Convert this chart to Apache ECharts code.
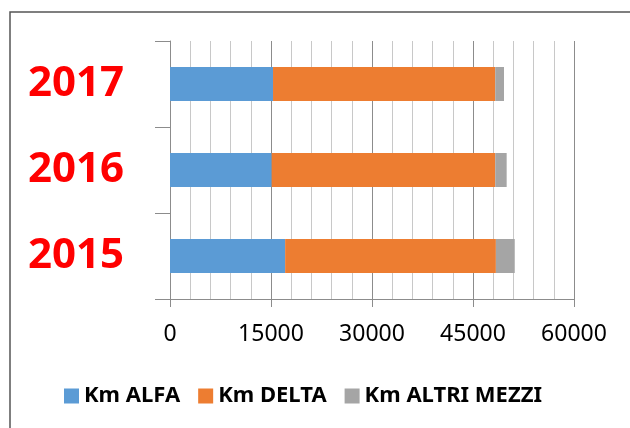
<!DOCTYPE html>
<html>
<head>
<meta charset="utf-8">
<script src="https://cdn.jsdelivr.net/npm/echarts@6/dist/echarts.min.js"></script>
<style>
  html, body { margin: 0; padding: 0; background: #fff; }
  #chart { width: 630px; height: 428px; }
</style>
</head>
<body>
<div id="chart"></div>
<script>
// dati
var years = ['2015', '2016', '2017'];
var kmAlfa = [17100, 15100, 15300];
var kmDelta = [31300, 33200, 33000];
var kmAltri = [2800, 1700, 1300];
var xTicks = [0, 15000, 30000, 45000, 60000];

var font = 'Noto Sans';
var chart = echarts.init(document.getElementById('chart'));

chart.setOption({
  backgroundColor: '#fff',
  animation: false,
  graphic: [{
    type: 'rect',
    shape: { x: 10, y: 12, width: 700, height: 500 },
    style: { fill: 'none', stroke: '#555', lineWidth: 1.5 }
  }],
  grid: { left: 170, right: 56, top: 41, bottom: 129 },
  legend: {
    top: 380,
    left: 59,
    itemWidth: 15,
    itemHeight: 15,
    itemGap: 18,
    icon: 'rect',
    textStyle: { fontFamily: font, fontSize: 22, fontWeight: 'bold', color: '#000' },
    data: ['Km ALFA', 'Km DELTA', 'Km ALTRI MEZZI']
  },
  xAxis: {
    type: 'value',
    min: xTicks[0],
    max: xTicks[xTicks.length - 1],
    interval: xTicks[1] - xTicks[0],
    axisLine: { show: true, lineStyle: { color: '#8c8c8c', width: 1 } },
    axisTick: { show: true, length: 8, lineStyle: { color: '#8c8c8c' } },
    axisLabel: {
      margin: 24, fontFamily: font, fontSize: 23, color: '#000',
      formatter: function (v) { return String(v); }
    },
    splitLine: { show: true, lineStyle: { color: '#8c8c8c', width: 1 } },
    minorTick: { show: false, splitNumber: 5 },
    minorSplitLine: { show: true, lineStyle: { color: '#c8c8c8', width: 1 } }
  },
  yAxis: {
    type: 'category',
    data: years,
    axisLine: { show: true, lineStyle: { color: '#8c8c8c', width: 1 } },
    axisTick: { show: true, length: 15, lineStyle: { color: '#8c8c8c' } },
    axisLabel: { margin: 46, fontFamily: font, fontSize: 42, fontWeight: 'bold', color: '#ff0000' },
    splitLine: { show: false }
  },
  series: [
    { name: 'Km ALFA', type: 'bar', stack: 'km', data: kmAlfa, barWidth: 34, itemStyle: { color: '#5b9bd5' } },
    { name: 'Km DELTA', type: 'bar', stack: 'km', data: kmDelta, itemStyle: { color: '#ed7d31' } },
    { name: 'Km ALTRI MEZZI', type: 'bar', stack: 'km', data: kmAltri, itemStyle: { color: '#a5a5a5' } }
  ]
});
</script>
</body>
</html>
